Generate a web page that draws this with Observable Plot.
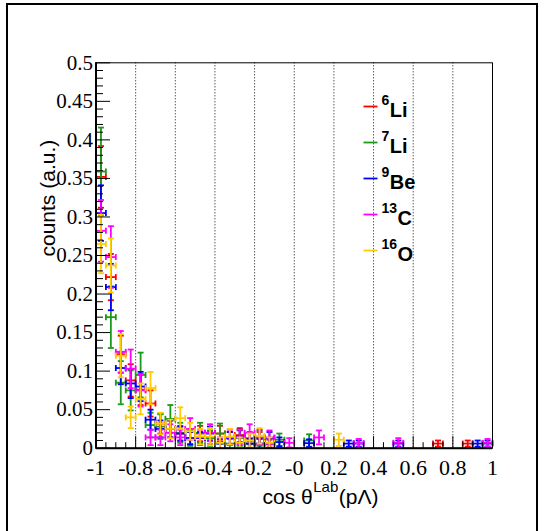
<!DOCTYPE html>
<html><head><meta charset="utf-8">
<script src="https://cdn.jsdelivr.net/npm/d3@7"></script>
<script src="https://cdn.jsdelivr.net/npm/@observablehq/plot@0.6"></script>
<style>
html,body{margin:0;padding:0;background:#fff;overflow:hidden;width:546px;height:531px}
#wrap{position:relative;width:546px;height:531px}
#wrap svg{position:absolute;left:0;top:0}
#border{position:absolute;left:6px;top:3px;width:532px;height:560px;border:2px solid #000;box-sizing:border-box;pointer-events:none}
</style></head><body><div id="wrap"><div id="border"></div></div>
<script>
// bin centres of the cos(theta) histogram (bin width 0.05)
const binCenters = [
 -0.975,-0.925,-0.875,-0.825,-0.775,-0.725,-0.675,-0.625,-0.575,-0.525,
 -0.475,-0.425,-0.375,-0.325,-0.275,-0.225,-0.175,-0.125,-0.075,-0.025,
  0.025, 0.075, 0.125, 0.175, 0.225, 0.275, 0.325, 0.375, 0.425, 0.475,
  0.525, 0.575, 0.625, 0.675, 0.725, 0.775, 0.825, 0.875, 0.925, 0.975];
const binWidth = 0.05;

const li6 = [
 0.352,0.222,0.122,0.088,0.076,0.058,0.032,0.025,0.019,0.013,
 0.019,0.013,0.019,0.013,0.017,0.013,0.013,0.006,null,null,
 null,null,null,null,null,null,null,null,null,null,
 null,null,null,null,0.006,null,null,0.006,null,null];
const li6Err = [
 0.040,0.030,0.024,0.021,0.020,0.017,0.013,0.011,0.010,0.008,
 0.010,0.008,0.010,0.008,0.009,0.008,0.008,0.005,null,null,
 null,null,null,null,null,null,null,null,null,null,
 null,null,null,null,0.004,null,null,0.004,null,null];

const li7 = [
 0.359,0.170,0.085,0.075,0.095,0.030,0.028,0.038,0.020,0.013,
 0.020,0.013,0.019,0.006,0.013,0.006,0.013,0.006,0.011,null,
 null,0.010,null,null,null,null,null,null,null,null,
 null,null,null,null,null,null,null,null,null,null];
const li7Err = [
 0.057,0.040,0.028,0.026,0.029,0.016,0.016,0.018,0.013,0.010,
 0.013,0.010,0.013,0.006,0.010,0.006,0.010,0.006,0.008,null,
 null,0.008,null,null,null,null,null,null,null,null,
 null,null,null,null,null,null,null,null,null,null];

const be9 = [
 0.305,0.209,0.104,0.084,0.080,0.037,0.025,0.025,0.019,0.013,
 0.013,0.019,0.006,0.013,0.015,0.006,0.006,0.013,0.008,null,
 null,0.0065,null,null,null,0.006,0.006,null,null,null,
 0.006,null,null,null,null,null,null,null,0.006,0.006];
const be9Err = [
 0.036,0.030,0.021,0.019,0.019,0.013,0.011,0.011,0.009,0.008,
 0.008,0.009,0.006,0.008,0.009,0.006,0.006,0.008,0.006,null,
 null,0.005,null,null,null,0.004,0.004,null,null,null,
 0.004,null,null,null,null,null,null,null,0.004,0.004];

const c13 = [
 0.282,0.248,0.125,0.103,0.075,0.014,0.014,0.020,0.014,0.025,
 0.014,0.020,0.007,0.014,0.014,0.020,0.014,0.014,null,0.007,
 null,null,0.014,null,null,null,0.0065,null,null,null,
 0.007,null,null,null,null,null,null,null,null,0.007];
const c13Err = [
 0.040,0.040,0.027,0.025,0.021,0.010,0.010,0.011,0.010,0.014,
 0.010,0.011,0.007,0.010,0.010,0.011,0.010,0.009,null,0.006,
 null,null,0.009,null,null,null,0.0055,null,null,null,
 0.006,null,null,null,null,null,null,null,null,0.005];

const o16 = [
 0.265,0.237,0.120,0.040,0.064,0.078,0.032,0.025,0.039,0.022,
 0.015,0.015,0.007,0.015,0.007,0.010,0.016,0.007,null,null,
 null,null,null,null,0.011,null,null,null,null,null,
 null,null,null,null,null,null,null,null,null,null];
const o16Err = [
 0.038,0.035,0.028,0.014,0.020,0.021,0.014,0.012,0.014,0.011,
 0.010,0.011,0.007,0.010,0.007,0.009,0.010,0.007,null,null,
 null,null,null,null,0.008,null,null,null,null,null,
 null,null,null,null,null,null,null,null,null,null];

const seriesSup = ["6","7","9","13","16"];
const seriesEl = ["Li","Li","Be","C","O"];
const seriesColors = ["#ff0000","#1a9a1a","#0000ff","#ff00ff","#ffcc00"];
const seriesVals = [li6, li7, be9, c13, o16];
const seriesErrs = [li6Err, li7Err, be9Err, c13Err, o16Err];

const xMajor = [-1,-0.8,-0.6,-0.4,-0.2,0,0.2,0.4,0.6,0.8,1];
const xTickLabels = ["-1","-0.8","-0.6","-0.4","-0.2","-0","0.2","0.4","0.6","0.8","1"];
const xGrid = [-0.8,-0.6,-0.4,-0.2,0,0.2,0.4,0.6,0.8];
const yMajor = [0,0.05,0.1,0.15,0.2,0.25,0.3,0.35,0.4,0.45,0.5];
const yTickLabels = ["0","0.05","0.1","0.15","0.2","0.25","0.3","0.35","0.4","0.45","0.5"];
const xMinor = d3.range(-1, 1.0001, 0.05).filter(v => !xMajor.some(m => Math.abs(m - v) < 1e-6));
const yMinor = d3.range(0, 0.5001, 0.01).filter(v => !yMajor.some(m => Math.abs(m - v) < 1e-6));

// custom line symbols (pixel-sized)
const capH = {draw(c, s){ const r = Math.sqrt(s / Math.PI); c.moveTo(-r, 0); c.lineTo(r, 0); }};
const capV = {draw(c, s){ const r = Math.sqrt(s / Math.PI); c.moveTo(0, -r); c.lineTo(0, r); }};
const tickUp = {draw(c, s){ const r = Math.sqrt(s / Math.PI); c.moveTo(0, 0); c.lineTo(0, -r); }};
const tickRight = {draw(c, s){ const r = Math.sqrt(s / Math.PI); c.moveTo(0, 0); c.lineTo(r, 0); }};

const cv = document.createElement("canvas").getContext("2d");
function tw(str, font){ cv.font = font; return cv.measureText(str).width; }

const SERIF = "Liberation Serif";
const SANS = "Liberation Sans";
const hb = binWidth / 2;
const lw = 1.8;

const marks = [];
// grid
marks.push(Plot.ruleX(xGrid, {x: d => d, stroke: "#111", strokeWidth: 1, strokeDasharray: "1,2"}));

// data
seriesVals.forEach((vals, k) => {
  const color = seriesColors[k];
  const rows = binCenters.map((x, i) => ({x, y: vals[i], e: seriesErrs[k][i]})).filter(d => d.y != null);
  marks.push(
    Plot.ruleX(rows, {x: "x", y1: d => Math.max(0, d.y - d.e), y2: d => d.y + d.e, stroke: color, strokeWidth: lw}),
    Plot.ruleY(rows, {y: "y", x1: d => d.x - hb, x2: d => d.x + hb, stroke: color, strokeWidth: lw}),
    Plot.dot(rows, {x: "x", y: d => d.y + d.e, symbol: capH, r: 3, stroke: color, fill: "none", strokeWidth: lw}),
    Plot.dot(rows.filter(d => d.y - d.e > 0), {x: "x", y: d => d.y - d.e, symbol: capH, r: 3, stroke: color, fill: "none", strokeWidth: lw}),
    Plot.dot(rows, {x: d => d.x - hb, y: "y", symbol: capV, r: 3, stroke: color, fill: "none", strokeWidth: lw}),
    Plot.dot(rows, {x: d => d.x + hb, y: "y", symbol: capV, r: 3, stroke: color, fill: "none", strokeWidth: lw})
  );
});

// frame and axes
marks.push(Plot.frame({stroke: "#000", strokeWidth: 1}));
marks.push(Plot.ruleY([0], {stroke: "#000", strokeWidth: 2}));
marks.push(Plot.ruleX([-1], {stroke: "#000", strokeWidth: 2}));
marks.push(Plot.dot(xMajor, {x: d => d, y: 0, symbol: tickUp, r: 12, stroke: "#000", fill: "none", strokeWidth: 1}));
marks.push(Plot.dot(xMinor, {x: d => d, y: 0, symbol: tickUp, r: 6, stroke: "#000", fill: "none", strokeWidth: 1}));
marks.push(Plot.dot(yMajor, {x: -1, y: d => d, symbol: tickRight, r: 14, stroke: "#000", fill: "none", strokeWidth: 1}));
marks.push(Plot.dot(yMinor, {x: -1, y: d => d, symbol: tickRight, r: 7, stroke: "#000", fill: "none", strokeWidth: 1}));
marks.push(Plot.text(xMajor, {x: d => d, y: 0, text: (d, i) => xTickLabels[i], dy: 20, lineAnchor: "middle", fontSize: 22, fontFamily: SERIF, fill: "#000"}));
marks.push(Plot.text(yMajor, {x: -1, y: d => d, text: (d, i) => yTickLabels[i], textAnchor: "end", dx: -3, lineAnchor: "middle", fontSize: 21, fontFamily: SERIF, fill: "#000"}));

// axis titles
marks.push(Plot.text(["counts (a.u.)"], {frameAnchor: "left", rotate: -90, dx: -48, dy: 1, fontSize: 21, fontFamily: SANS, fill: "#000", lineAnchor: "middle"}));
const tFont = `21px "${SANS}"`, sFont = `15px "${SANS}"`;
const t1 = "cos θ", t2 = "Lab", t3 = "(pΛ)";
const x0 = 262 - 293.75;
const w1 = tw(t1, tFont), w2 = tw(t2, sFont);
marks.push(Plot.text([t1], {frameAnchor: "bottom", textAnchor: "start", dx: x0, dy: 49, fontSize: 21, fontFamily: SANS, fill: "#000", lineAnchor: "middle"}));
marks.push(Plot.text([t2], {frameAnchor: "bottom", textAnchor: "start", dx: x0 + w1 + 0.5, dy: 39, fontSize: 15, fontFamily: SANS, fill: "#000", lineAnchor: "middle"}));
marks.push(Plot.text([t3], {frameAnchor: "bottom", textAnchor: "start", dx: x0 + w1 + w2 + 1, dy: 49, fontSize: 21, fontFamily: SANS, fill: "#000", lineAnchor: "middle"}));

// legend
const legY0 = 106 - 62.3, legStep = 36;
seriesSup.forEach((sup, i) => {
  const dy = legY0 + legStep * i;
  const ws = tw(sup, `bold 14px "${SANS}"`);
  marks.push(Plot.dot([0], {frameAnchor: "top-left", dx: 370 - 95.5, dy, symbol: capH, r: 7, stroke: seriesColors[i], fill: "none", strokeWidth: lw}));
  marks.push(Plot.text([sup], {frameAnchor: "top-left", textAnchor: "start", dx: 381 - 95.5, dy: dy - 6, fontSize: 14, fontWeight: "bold", fontFamily: SANS, fill: "#000", lineAnchor: "middle"}));
  marks.push(Plot.text([seriesEl[i]], {frameAnchor: "top-left", textAnchor: "start", dx: 381 - 95.5 + ws + 0.5, dy: dy + 4, fontSize: 20, fontWeight: "bold", fontFamily: SANS, fill: "#000", lineAnchor: "middle"}));
});

const chart = Plot.plot({
  width: 546, height: 531,
  marginLeft: 95.5, marginRight: 54, marginTop: 62.3, marginBottom: 83.3,
  x: {domain: [-1, 1], axis: null},
  y: {domain: [0, 0.5], axis: null},
  style: {background: "transparent", overflow: "visible", fontFamily: "Liberation Serif"},
  marks
});
document.getElementById("wrap").appendChild(chart);
</script>
</body></html>
